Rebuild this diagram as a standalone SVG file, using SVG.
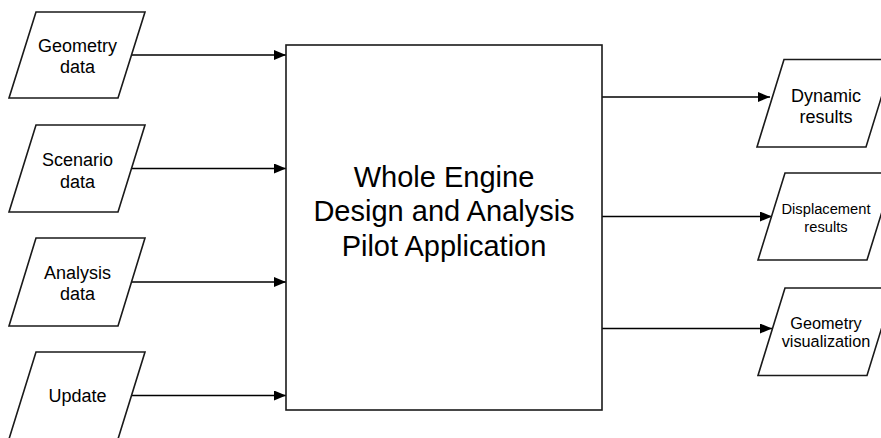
<svg xmlns="http://www.w3.org/2000/svg" width="881" height="438" viewBox="0 0 881 438">
  <style>
    .shape { fill: #ffffff; stroke: #1a1a1a; stroke-width: 1.6; }
    .conn { fill: none; stroke: #000000; stroke-width: 1.6; }
    text { font-family: "Liberation Sans", Arial, sans-serif; fill: #000000; text-anchor: middle; }
    .lbl { font-size: 18px; }
    .small { font-size: 14.7px; }
    .mid { font-size: 16.3px; }
    .main { font-size: 29px; }
  </style>
  <defs>
    <marker id="arrow" markerUnits="userSpaceOnUse" viewBox="0 0 12 10" refX="12" refY="5" markerWidth="12" markerHeight="10" orient="auto">
      <path d="M0,0 L12,5 L0,10 z" fill="#000000"/>
    </marker>
  </defs>

  <rect width="881" height="438" fill="#ffffff"/>

  <!-- connectors -->
  <g id="connectors">
    <line class="conn" x1="132" y1="55" x2="286" y2="55" marker-end="url(#arrow)"/>
    <line class="conn" x1="132" y1="168.5" x2="286" y2="168.5" marker-end="url(#arrow)"/>
    <line class="conn" x1="132" y1="282" x2="286" y2="282" marker-end="url(#arrow)"/>
    <line class="conn" x1="132" y1="395.5" x2="286" y2="395.5" marker-end="url(#arrow)"/>
    <line class="conn" x1="602" y1="97" x2="770" y2="97" marker-end="url(#arrow)"/>
    <line class="conn" x1="602" y1="216.5" x2="772" y2="216.5" marker-end="url(#arrow)"/>
    <line class="conn" x1="602" y1="328.5" x2="772" y2="328.5" marker-end="url(#arrow)"/>
  </g>

  <!-- inputs -->
  <g id="geometry-data">
    <polygon class="shape" points="36,12 145,12 118,98 9,98"/>
    <text class="lbl" x="77.5" y="52">Geometry</text>
    <text class="lbl" x="77.5" y="73">data</text>
  </g>
  <g id="scenario-data">
    <polygon class="shape" points="36,125 145,125 118,212 9,212"/>
    <text class="lbl" x="77.5" y="166">Scenario</text>
    <text class="lbl" x="77.5" y="187.5">data</text>
  </g>
  <g id="analysis-data">
    <polygon class="shape" points="36,238 145,238 118,326 9,326"/>
    <text class="lbl" x="77.5" y="279">Analysis</text>
    <text class="lbl" x="77.5" y="300">data</text>
  </g>
  <g id="update">
    <polygon class="shape" points="36,352 145,352 118,439 9,439"/>
    <text class="lbl" x="77.5" y="402">Update</text>
  </g>

  <!-- main application -->
  <g id="pilot-application">
    <rect class="shape" x="286" y="45" width="316" height="365"/>
    <text class="main" x="444" y="186.5">Whole Engine</text>
    <text class="main" x="444" y="220.5">Design and Analysis</text>
    <text class="main" x="444" y="255.5">Pilot Application</text>
  </g>

  <!-- outputs -->
  <g id="dynamic-results">
    <polygon class="shape" points="784,59.5 893,59.5 866,147 757,147"/>
    <text class="lbl" x="826" y="101.5">Dynamic</text>
    <text class="lbl" x="826" y="123">results</text>
  </g>
  <g id="displacement-results">
    <polygon class="shape" points="785,173 894,173 867,260 758,260"/>
    <text class="small" x="826" y="214">Displacement</text>
    <text class="small" x="826" y="231.5">results</text>
  </g>
  <g id="geometry-visualization">
    <polygon class="shape" points="785,288 894,288 867,375.5 758,375.5"/>
    <text class="mid" x="826" y="329">Geometry</text>
    <text class="mid" x="826" y="347">visualization</text>
  </g>
</svg>
